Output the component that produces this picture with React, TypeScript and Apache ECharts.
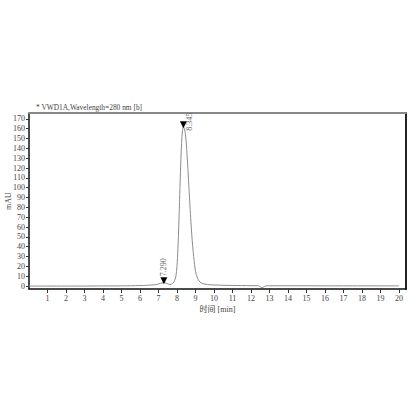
import React, { useEffect, useRef } from "react";
import * as echarts from "echarts";

const titleText = "* VWD1A,Wavelength=280 nm [b]";
const xName = "时间 [min]";
const yName = "mAU";

const times = [
  0, 1, 2, 3, 4, 5, 5.5, 6, 6.4, 6.7, 6.9, 7.0, 7.1, 7.2, 7.29, 7.38, 7.46, 7.55, 7.62,
  7.7, 7.8, 7.88, 7.94, 8.0, 8.05, 8.1, 8.15, 8.2, 8.25, 8.3, 8.345, 8.4, 8.45, 8.5,
  8.55, 8.6, 8.65, 8.7, 8.75, 8.8, 8.85, 8.9, 8.95, 9.0, 9.1, 9.2, 9.3, 9.5, 9.8,
  10.3, 11, 12, 12.4, 12.5, 12.6, 12.7, 12.8, 13, 14, 15, 16, 17, 18, 19, 20,
];
const signal = [
  0.0, 0.0, 0.0, 0.0, 0.1, 0.2, 0.3, 0.5, 0.8, 1.1, 1.6, 2.1, 2.7, 3.2, 3.4, 3.2, 2.6, 1.9, 1.6,
  1.9, 3.2, 6, 10, 20, 38, 63, 93, 123, 146, 158, 162, 160, 155, 146,
  132, 116, 99, 82, 66, 52, 40, 30, 22, 15, 8.5, 5, 3.3, 2, 1.3,
  0.9, 0.6, 0.4, 0.2, -0.8, -1.6, -0.7, 0.1, 0.3, 0.3, 0.3, 0.2, 0.2, 0.2, 0.2, 0.2,
];

const peakTimes = [7.29, 8.345];
const peakHeights = [3.4, 162];
const peakLabels = ["7.290", "8.345"];

const xTickValues = [1, 2, 3, 4, 5, 6, 7, 8, 9, 10, 11, 12, 13, 14, 15, 16, 17, 18, 19, 20];
const yTickValues = [0, 10, 20, 30, 40, 50, 60, 70, 80, 90, 100, 110, 120, 130, 140, 150, 160, 170];

const FONT = "'Liberation Serif', 'Noto Sans CJK SC', serif";

export default function App() {
  const ref = useRef<HTMLDivElement>(null);
  useEffect(() => {
    document.body.style.margin = "0";
    if (!ref.current) return;
    const chart = echarts.init(ref.current, null, { renderer: "svg" });
    const data = times.map((t, i) => [t, signal[i]]);
    const labelBase = {
      show: true,
      position: "top",
      rotate: 90,
      align: "left",
      verticalAlign: "middle",
      distance: 2,
      fontSize: 8,
      color: "#666",
      fontFamily: FONT,
      formatter: (p: any) => p.name,
    };
    chart.setOption({
      animation: false,
      backgroundColor: "#fff",
      textStyle: { fontFamily: FONT },
      title: {
        text: titleText,
        left: 31,
        top: 99,
        textStyle: { fontSize: 7.4, fontWeight: "normal", color: "#444", fontFamily: FONT },
      },
      grid: { left: 29, top: 113, right: 10, bottom: 127, containLabel: false, outerBoundsMode: "none" },
      xAxis: [
        {
          type: "value",
          min: 0,
          max: 20.38,
          name: xName,
          nameLocation: "middle",
          nameGap: 16,
          nameMoveOverlap: false,
          nameTextStyle: { fontSize: 8, color: "#444", fontFamily: FONT },
          axisLine: { show: true, onZero: false, lineStyle: { color: "#111", width: 1.5 } },
          axisTick: { show: true, length: 4, customValues: xTickValues, lineStyle: { color: "#333" } },
          axisLabel: { customValues: xTickValues, fontSize: 8, color: "#444", margin: 5, fontFamily: FONT },
          splitLine: { show: false },
        },
        {
          type: "value",
          position: "top",
          min: 0,
          max: 20.38,
          axisLine: { show: true, onZero: false, lineStyle: { color: "#888", width: 2 } },
          axisTick: { show: false },
          axisLabel: { show: false },
          splitLine: { show: false },
        },
      ],
      yAxis: [
        {
          type: "value",
          min: -3,
          max: 176,
          name: yName,
          nameLocation: "middle",
          nameGap: 17,
          nameMoveOverlap: false,
          nameRotate: 90,
          nameTextStyle: { fontSize: 8, color: "#444", fontFamily: FONT },
          axisLine: { show: true, onZero: false, lineStyle: { color: "#111", width: 1.5 } },
          axisTick: { show: true, length: 3, customValues: yTickValues, lineStyle: { color: "#333" } },
          axisLabel: { customValues: yTickValues, fontSize: 8, color: "#444", margin: 4, fontFamily: FONT },
          splitLine: { show: false },
        },
        {
          type: "value",
          position: "right",
          min: -3,
          max: 176,
          axisLine: { show: true, onZero: false, lineStyle: { color: "#222", width: 2 } },
          axisTick: { show: false },
          axisLabel: { show: false },
          splitLine: { show: false },
        },
      ],
      series: [
        {
          type: "line",
          data,
          showSymbol: false,
          smooth: 0.3,
          lineStyle: { color: "#8c8c8c", width: 1 },
          markPoint: {
            symbol: "triangle",
            symbolSize: 7,
            symbolRotate: 180,
            symbolOffset: [0, -2],
            itemStyle: { color: "#000" },
            label: labelBase,
            data: [
              {
                name: peakLabels[0],
                coord: [peakTimes[0], peakHeights[0]],
                label: { ...labelBase, position: "top", distance: 1 },
              },
              {
                name: peakLabels[1],
                coord: [peakTimes[1], peakHeights[1]],
                label: { ...labelBase, position: "right", distance: 1, offset: [-6, 2] },
              },
            ],
          },
        },
      ],
    });
    return () => chart.dispose();
  }, []);
  return <div ref={ref} style={{ width: 416, height: 416 }} />;
}
